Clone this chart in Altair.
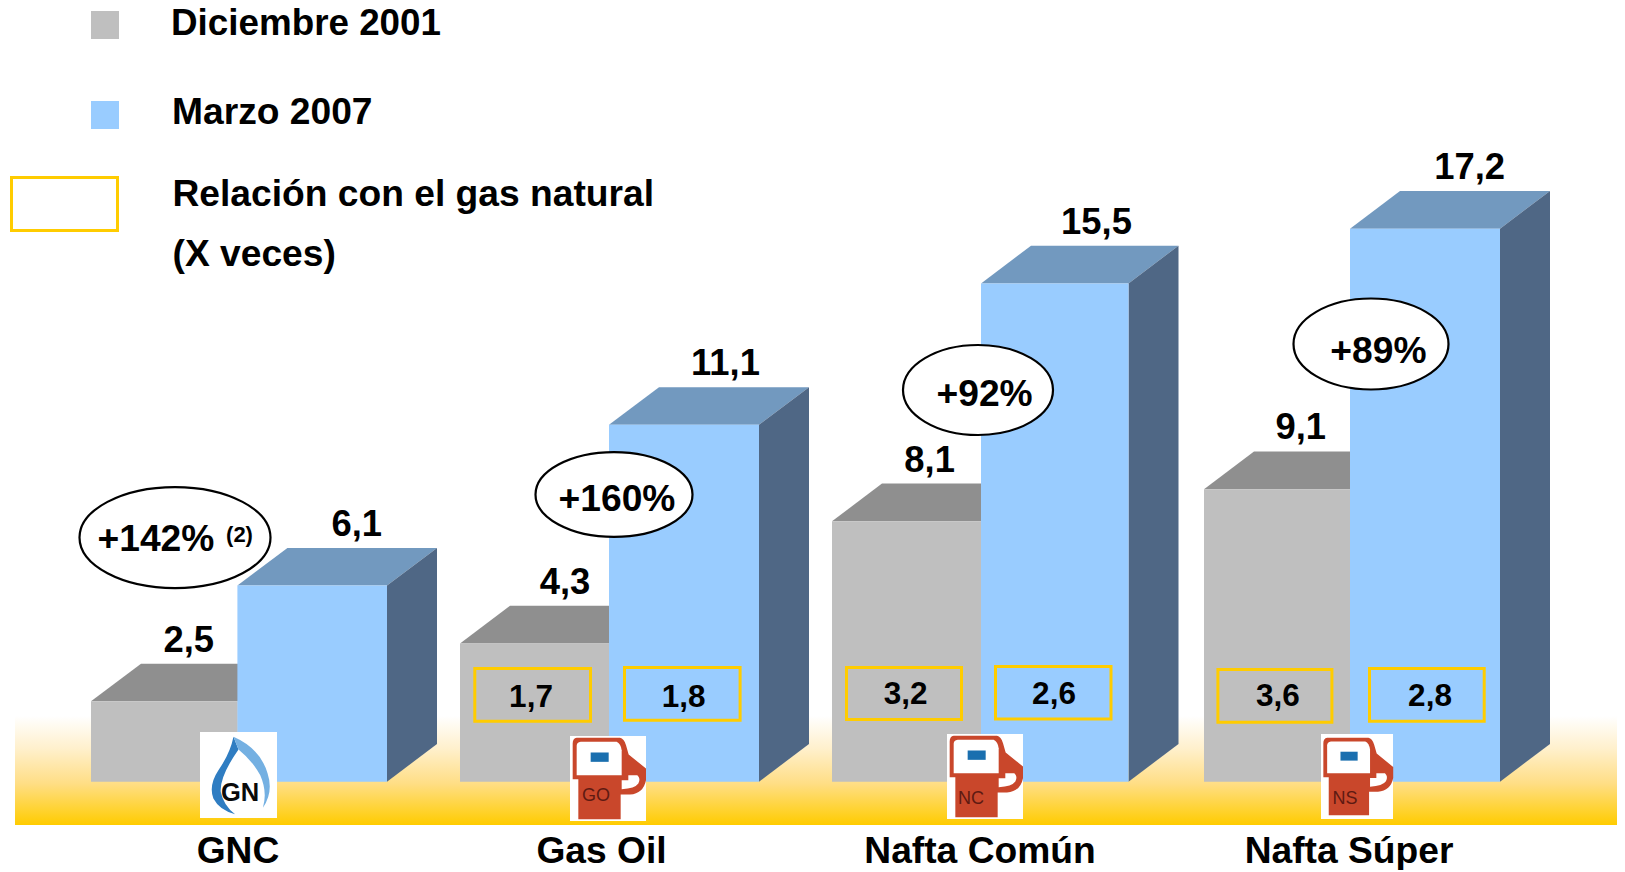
import re
import altair as alt
import pandas as pd

# ---------- chart values ----------
categories = ["GNC", "Gas Oil", "Nafta Común", "Nafta Súper"]
dic_2001 = [2.5, 4.3, 8.1, 9.1]
mar_2007 = [6.1, 11.1, 15.5, 17.2]
dic_labels = ["2,5", "4,3", "8,1", "9,1"]
mar_labels = ["6,1", "11,1", "15,5", "17,2"]
rel_dic = ["1,7", "3,2", "3,6"]
rel_mar = ["1,8", "2,6", "2,8"]
pct_labels = ["+142%", "+160%", "+92%", "+89%"]
legend_labels = ["Diciembre 2001", "Marzo 2007", "Relación con el gas natural", "(X veces)"]
icon_labels = ["GO", "NC", "NS"]

# ---------- layout (page pixels) ----------
W, H = 1609, 862
BASE, PXU = 781.7, 32.15
def v(py):
    return (BASE - py) / PXU
XS = alt.Scale(domain=[8, 8 + W], range=[0, W], nice=False, zero=False)
YS = alt.Scale(domain=[v(8 + H), v(8)], range=[H, 0], nice=False, zero=False)
DX, DY = 50, 37.7 / PXU
gray_x = [(91, 237.4), (460, 609), (832, 981), (1204, 1350)]
blue_x = [(237.4, 387), (609, 759), (981, 1128.5), (1350, 1500)]
GRAY, GRAY_TOP = "#BFBFBF", "#8F8F8F"
BLUE, BLUE_TOP, BLUE_SIDE = "#99CCFF", "#7299BF", "#4F6785"
GOLD = "#FFCC00"
FONT = "Liberation Sans"

def rects(rows, **mark):
    d = pd.DataFrame(rows, columns=["x", "x2", "y", "y2"])
    return alt.Chart(d).mark_rect(**mark).encode(
        x=alt.X("x:Q", scale=XS, axis=None), x2="x2:Q",
        y=alt.Y("y:Q", scale=YS, axis=None), y2="y2:Q")

def areas(rows, color):
    d = pd.DataFrame(rows, columns=["id", "x", "y", "y2"])
    return alt.Chart(d).mark_area(color=color, opacity=1, line=False).encode(
        x=alt.X("x:Q", scale=XS, axis=None),
        y=alt.Y("y:Q", scale=YS, axis=None), y2="y2:Q", detail="id:N")

def texts(rows, size, weight="bold", color="#000000", align="center", **kw):
    d = pd.DataFrame(rows, columns=["x", "y", "t"])
    return alt.Chart(d).mark_text(font=FONT, fontSize=size, fontWeight=weight, color=color,
                                  align=align, baseline="alphabetic", **kw).encode(
        x=alt.X("x:Q", scale=XS, axis=None),
        y=alt.Y("y:Q", scale=YS, axis=None), text="t:N")

def prism(vals, xs, top, side, front):
    tops, sides, fronts = [], [], []
    for i, (val, (x0, x1)) in enumerate(zip(vals, xs)):
        tops += [(i, x0, val, val), (i, x0 + DX, val + DY, val),
                 (i, x1, val + DY, val), (i, x1 + DX, val + DY, val + DY)]
        sides += [(i, x1, val, 0), (i, x1 + DX, val + DY, DY)]
        fronts.append((x0, x1, val, 0))
    return [areas(tops, top), areas(sides, side), rects(fronts, color=front)]

def path(spec, cx, cy, half):
    """Turn a drawing given in reference-crop pixels into a symbol path in -1..1."""
    out, is_x = [], True
    for tok in spec.split():
        if re.fullmatch(r"-?[\d.]+", tok):
            n = float(tok)
            n = (n - cx) / half if is_x else (n - cy) / half
            out.append(f"{n:.3f}")
            is_x = not is_x
        else:
            out.append(tok)
            is_x = True
    return " ".join(out)

def symbol(spec, rows, color, cx, cy, half):
    d = pd.DataFrame(rows, columns=["x", "y", "s"])
    return alt.Chart(d).mark_point(shape=path(spec, cx, cy, half), filled=True, fill=color,
                                   stroke=None, opacity=1).encode(
        x=alt.X("x:Q", scale=XS, axis=None), y=alt.Y("y:Q", scale=YS, axis=None),
        size=alt.Size("s:Q", scale=None, legend=None))

layers = []

# ground band
layers.append(rects([(15, 8 + W, v(716), v(825))], color=alt.Gradient(
    gradient="linear", x1=0, x2=0, y1=0, y2=1,
    stops=[alt.GradientStop(color="#FFFFFF", offset=0),
           alt.GradientStop(color="#FFF0CC", offset=0.3),
           alt.GradientStop(color="#FFDE85", offset=0.62),
           alt.GradientStop(color=GOLD, offset=1)])))

# bars
layers += prism(dic_2001, gray_x, GRAY_TOP, GRAY, GRAY)
layers += prism(mar_2007, blue_x, BLUE_TOP, BLUE_SIDE, BLUE)

# value labels
lab_x_d = [188.8, 565, 929.6, 1300.7]
lab_x_m = [356.7, 725.5, 1096.5, 1469.6]
layers.append(texts([(x, val + DY, t) for x, val, t in zip(lab_x_d, dic_2001, dic_labels)], 36.4, dy=-12))
layers.append(texts([(x, val + DY, t) for x, val, t in zip(lab_x_m, mar_2007, mar_labels)], 36.4, dy=-12))

# relation boxes
boxes = [(474.8, 590.5, 668.5, 721.2), (624.5, 740.1, 667.5, 720.2), (846.5, 961.5, 667.5, 719.5),
         (995.5, 1111, 666.5, 719.1), (1217.9, 1331.9, 669.5, 722.2), (1369.5, 1484.2, 668.5, 721.2)]
layers.append(rects([(a, b, v(c), v(d)) for a, b, c, d in boxes],
                    fill=None, filled=False, stroke=GOLD, strokeWidth=3))
box_text = [(531, 707, rel_dic[0]), (683.6, 707, rel_mar[0]), (905.6, 703.5, rel_dic[1]),
            (1054, 703.5, rel_mar[1]), (1277.8, 705.5, rel_dic[2]), (1430, 705.5, rel_mar[2])]
layers.append(texts([(x, v(y), t) for x, y, t in box_text], 31.5))

# percentage ellipses
ell = [(175, 537.6, 191, 101), (614, 494.5, 157, 85), (978, 390, 150, 90), (1371, 344, 155, 91)]
for cx_, cy_, w_, h_ in ell:
    r = h_ / w_
    shape = f"M -1 0 A 1 {r:.3f} 0 1 1 1 0 A 1 {r:.3f} 0 1 1 -1 0 Z"
    d = pd.DataFrame({"x": [cx_], "y": [v(cy_)], "s": [w_ * w_]})
    layers.append(alt.Chart(d).mark_point(shape=shape, filled=True, fill="#FFFFFF", stroke="#000000",
                                          strokeWidth=2.2, opacity=1).encode(
        x=alt.X("x:Q", scale=XS, axis=None), y=alt.Y("y:Q", scale=YS, axis=None),
        size=alt.Size("s:Q", scale=None, legend=None)))
pct_pos = [(155.9, 551), (617, 511), (984.6, 405.7), (1378.4, 363)]
layers.append(texts([(x, v(y), t) for (x, y), t in zip(pct_pos, pct_labels)], 37.2))
layers.append(texts([(239.5, v(542), "(2)")], 22))

# icons: white tiles
tiles = [(200, 277, 732, 818), (570, 646, 736, 821), (947, 1023, 734, 819), (1321, 1393, 734, 819)]
layers.append(rects([(a, b, v(c), v(d)) for a, b, c, d in tiles], color="#FFFFFF"))

# pump icons
PUMP = ("M 50 38 L 180 38 Q 192 40 198 60 L 206 88 L 258 130 L 258 165 Q 250 205 210 208 L 182 208 "
        "L 182 282 L 55 282 L 55 162 L 38 162 L 38 55 Q 38 40 50 38 Z")
WINDOW = "M 62 50 L 170 50 Q 182 55 185 75 L 185 150 L 50 150 L 50 62 Q 50 52 62 50 Z"
HOOK = "M 205 150 L 232 150 Q 243 160 235 175 Q 225 190 185 192 L 185 165 L 205 165 Z"
SCREEN = "M 92 82 L 146 82 L 146 110 L 92 110 Z"
pump_rows = [(608, v(778.5), 85 * 85), (985, v(776.5), 85 * 85), (1357, v(776.5), 81 * 81)]
for spec, col in [(PUMP, "#C9472B"), (WINDOW, "#FFFFFF"), (HOOK, "#FFFFFF"), (SCREEN, "#1A6FAF")]:
    layers.append(symbol(spec, pump_rows, col, 144, 160, 127.5))
icon_text = [(596, 801, icon_labels[0]), (971, 804, icon_labels[1]), (1345, 804, icon_labels[2])]
layers.append(texts([(x, v(y), t) for x, y, t in icon_text], 18, weight="normal", color="#5E1A12"))

# gas flame icon
FLAME_L = "M 160 50 Q 150 100 115 150 Q 85 195 100 235 Q 118 270 165 282 Q 130 255 122 215 Q 118 170 175 88 Z"
FLAME_R = "M 160 50 L 175 88 Q 215 120 240 165 Q 262 215 248 262 Q 280 215 262 160 Q 240 85 160 50 Z"
gn_row = [(238.5, v(775), 86 * 86)]
layers.append(symbol(FLAME_L, gn_row, "#2F7DC2", 175, 164.5, 128.5))
layers.append(symbol(FLAME_R, gn_row, "#74B0E2", 175, 164.5, 128.5))
layers.append(texts([(240, v(801), "GN")], 25.5, color="#0A0A0A"))

# category labels
cat_x = [238, 601.5, 980, 1349]
layers.append(texts([(x, v(862.7), t) for x, t in zip(cat_x, categories)], 37.2))

# legend
layers.append(rects([(91, 119, v(11), v(39))], color=GRAY))
layers.append(rects([(91, 119, v(101), v(129))], color=BLUE))
layers.append(rects([(11.5, 117.5, v(177.5), v(230.5))], fill=None, filled=False, stroke=GOLD, strokeWidth=3))
layers.append(texts([(171, v(35), legend_labels[0])], 36.8, align="left"))
leg = [(172, 124, legend_labels[1]), (172.5, 205.7, legend_labels[2]), (172.5, 265.5, legend_labels[3])]
layers.append(texts([(x, v(y), t) for x, y, t in leg], 37.2, align="left"))

chart = alt.layer(*layers).properties(
    width=W, height=H, padding=0, autosize=alt.AutoSizeParams(type="none"), background="#FFFFFF"
).configure_view(stroke=None)

chart.save("out.html", embed_options={"renderer": "svg", "actions": False})
